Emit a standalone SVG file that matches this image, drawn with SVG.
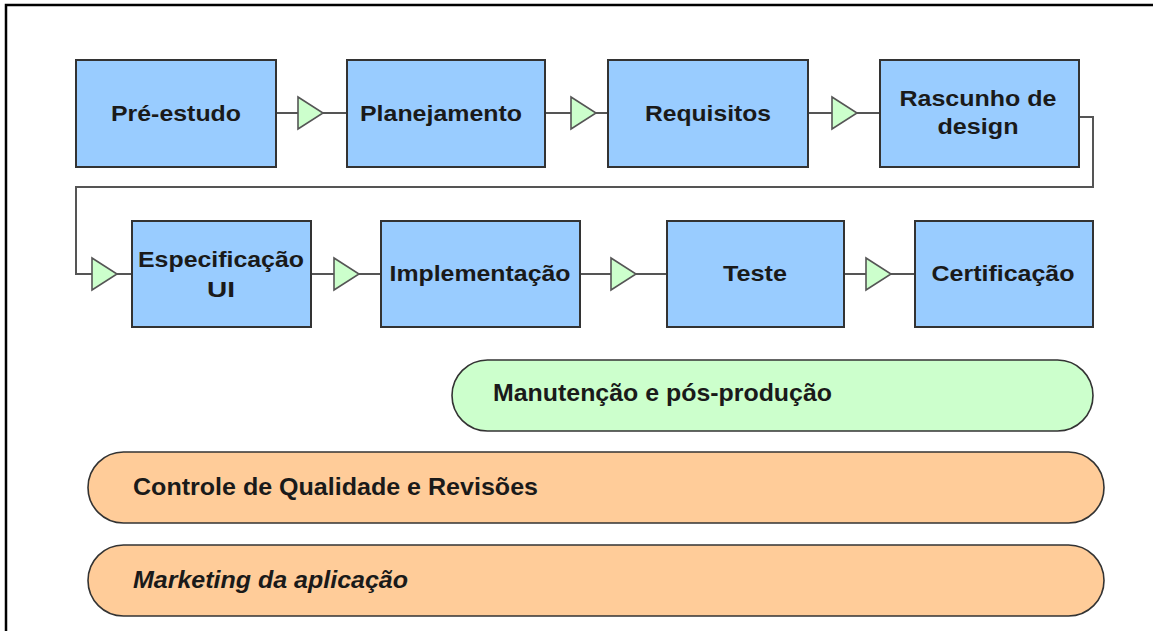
<svg xmlns="http://www.w3.org/2000/svg" width="1157" height="631" viewBox="0 0 1157 631">
<style>
.box{fill:#99CCFF;stroke:#333;stroke-width:2}
.tri{fill:#CCFFCC;stroke:#555;stroke-width:1.6;stroke-linejoin:miter}
.ln{fill:none;stroke:#555;stroke-width:2}
.green{fill:#CCFFCC;stroke:#333;stroke-width:1.6}
.orange{fill:#FFCC99;stroke:#333;stroke-width:1.6}
.lbl{font-family:"Liberation Sans",Arial,sans-serif;font-weight:bold;font-size:22px;fill:#1a1a1a;text-anchor:middle}
.bar{font-family:"Liberation Sans",Arial,sans-serif;font-weight:bold;font-size:24px;fill:#1a1a1a}
</style>
<rect width="1157" height="631" fill="#fff"/>
<path d="M6,631 V5 H1153" fill="none" stroke="#000" stroke-width="2.5"/>
<g id="connectors">
<path class="ln" d="M276,113 H347"/>
<path class="ln" d="M545,113 H608"/>
<path class="ln" d="M808,113 H880"/>
<path class="ln" d="M1075,117 H1093 V187 H76 V274 H132"/>
<path class="ln" d="M311,274 H381"/>
<path class="ln" d="M580,274 H667"/>
<path class="ln" d="M844,274 H915"/>
<polygon class="tri" points="298,97 323,113 298,129"/>
<polygon class="tri" points="571,97 596,113 571,129"/>
<polygon class="tri" points="832,97 857,113 832,129"/>
<polygon class="tri" points="92,258 117,274 92,290"/>
<polygon class="tri" points="334,258 359,274 334,290"/>
<polygon class="tri" points="611,258 636,274 611,290"/>
<polygon class="tri" points="866,258 891,274 866,290"/>
</g>
<g id="pre-estudo"><rect class="box" x="76" y="60" width="200" height="107"/><text class="lbl" x="176" y="121" textLength="130" lengthAdjust="spacingAndGlyphs">Pré-estudo</text></g>
<g id="planejamento"><rect class="box" x="347" y="60" width="198" height="107"/><text class="lbl" x="441" y="121" textLength="162" lengthAdjust="spacingAndGlyphs">Planejamento</text></g>
<g id="requisitos"><rect class="box" x="608" y="60" width="200" height="107"/><text class="lbl" x="708" y="121" textLength="126" lengthAdjust="spacingAndGlyphs">Requisitos</text></g>
<g id="rascunho"><rect class="box" x="880" y="60" width="199" height="107"/><text class="lbl" x="978" y="106" textLength="157" lengthAdjust="spacingAndGlyphs">Rascunho de</text><text class="lbl" x="978" y="134" textLength="81" lengthAdjust="spacingAndGlyphs">design</text></g>
<g id="especificacao"><rect class="box" x="132" y="221" width="179" height="106"/><text class="lbl" x="221" y="267" textLength="166" lengthAdjust="spacingAndGlyphs">Especificação</text><text class="lbl" x="221" y="297" textLength="28" lengthAdjust="spacingAndGlyphs">UI</text></g>
<g id="implementacao"><rect class="box" x="381" y="221" width="199" height="106"/><text class="lbl" x="480" y="281" textLength="181" lengthAdjust="spacingAndGlyphs">Implementação</text></g>
<g id="teste"><rect class="box" x="667" y="221" width="177" height="106"/><text class="lbl" x="755" y="281" textLength="64" lengthAdjust="spacingAndGlyphs">Teste</text></g>
<g id="certificacao"><rect class="box" x="915" y="221" width="178" height="106"/><text class="lbl" x="1003" y="281" textLength="143" lengthAdjust="spacingAndGlyphs">Certificação</text></g>
<g id="manutencao"><rect class="green" x="452" y="360" width="641" height="71" rx="35.5"/><text class="bar" x="493" y="401" textLength="339" lengthAdjust="spacingAndGlyphs">Manutenção e pós-produção</text></g>
<g id="controle"><rect class="orange" x="88" y="452" width="1016" height="71" rx="35.5"/><text class="bar" x="133" y="495" textLength="405" lengthAdjust="spacingAndGlyphs">Controle de Qualidade e Revisões</text></g>
<g id="marketing"><rect class="orange" x="88" y="545" width="1016" height="71" rx="35.5"/><text class="bar" x="133" y="588" font-style="italic" textLength="275" lengthAdjust="spacingAndGlyphs">Marketing da aplicação</text></g>
</svg>
